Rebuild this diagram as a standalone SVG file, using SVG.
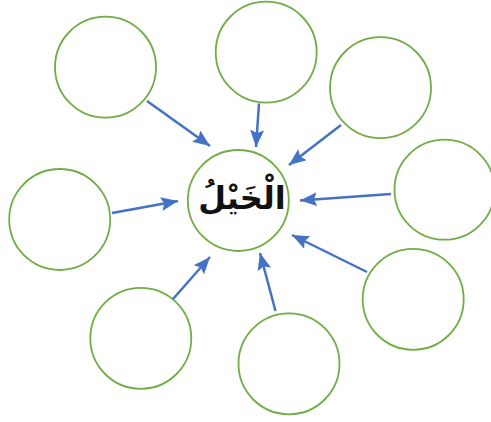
<svg xmlns="http://www.w3.org/2000/svg" width="491" height="422" viewBox="0 0 491 422">
<style>
.node{fill:#fff;stroke:#70AD47;stroke-width:1.8}
.edge{stroke:#4472C4;stroke-width:2.5;fill:none;marker-end:url(#ah)}
.lbl{font-family:"DejaVu Sans","Noto Sans",sans-serif;font-weight:bold;font-size:32px;fill:#111}
</style>
<defs>
<marker id="ah" markerUnits="userSpaceOnUse" markerWidth="18" markerHeight="14" refX="17" refY="7" orient="auto">
<path d="M0,0 L17,7 L0,14 L3,7 z" fill="#4472C4"/>
</marker>
</defs>
<rect width="491" height="422" fill="#fff"/>
<g id="n-center"><circle class="node" cx="238.3" cy="200.5" r="50.5"/>
<text class="lbl" x="242" y="209" text-anchor="middle" direction="rtl">الْخَيْلُ</text></g>
<g id="n-tl"><circle class="node" cx="105.5" cy="67.2" r="50.5"/></g>
<g id="n-top"><circle class="node" cx="266.2" cy="52.2" r="50.5"/></g>
<g id="n-tr"><circle class="node" cx="380.5" cy="87.7" r="50.5"/></g>
<g id="n-left"><circle class="node" cx="59.7" cy="219.5" r="50.5"/></g>
<g id="n-right"><circle class="node" cx="444.5" cy="189.7" r="50"/></g>
<g id="n-br"><circle class="node" cx="413.2" cy="299.3" r="50.5"/></g>
<g id="n-bl"><circle class="node" cx="140.8" cy="338.3" r="50.5"/></g>
<g id="n-bottom"><circle class="node" cx="289" cy="363.8" r="50.5"/></g>
<g id="edges">
<line class="edge" x1="147" y1="101" x2="210" y2="146"/>
<line class="edge" x1="259" y1="103.5" x2="256" y2="147"/>
<line class="edge" x1="341" y1="125" x2="289" y2="165"/>
<line class="edge" x1="112" y1="213" x2="178" y2="201"/>
<line class="edge" x1="391" y1="194" x2="300" y2="200.5"/>
<line class="edge" x1="367" y1="272" x2="292" y2="235"/>
<line class="edge" x1="173" y1="299" x2="210" y2="257"/>
<line class="edge" x1="275.5" y1="311" x2="260" y2="253"/>
</g>
</svg>
